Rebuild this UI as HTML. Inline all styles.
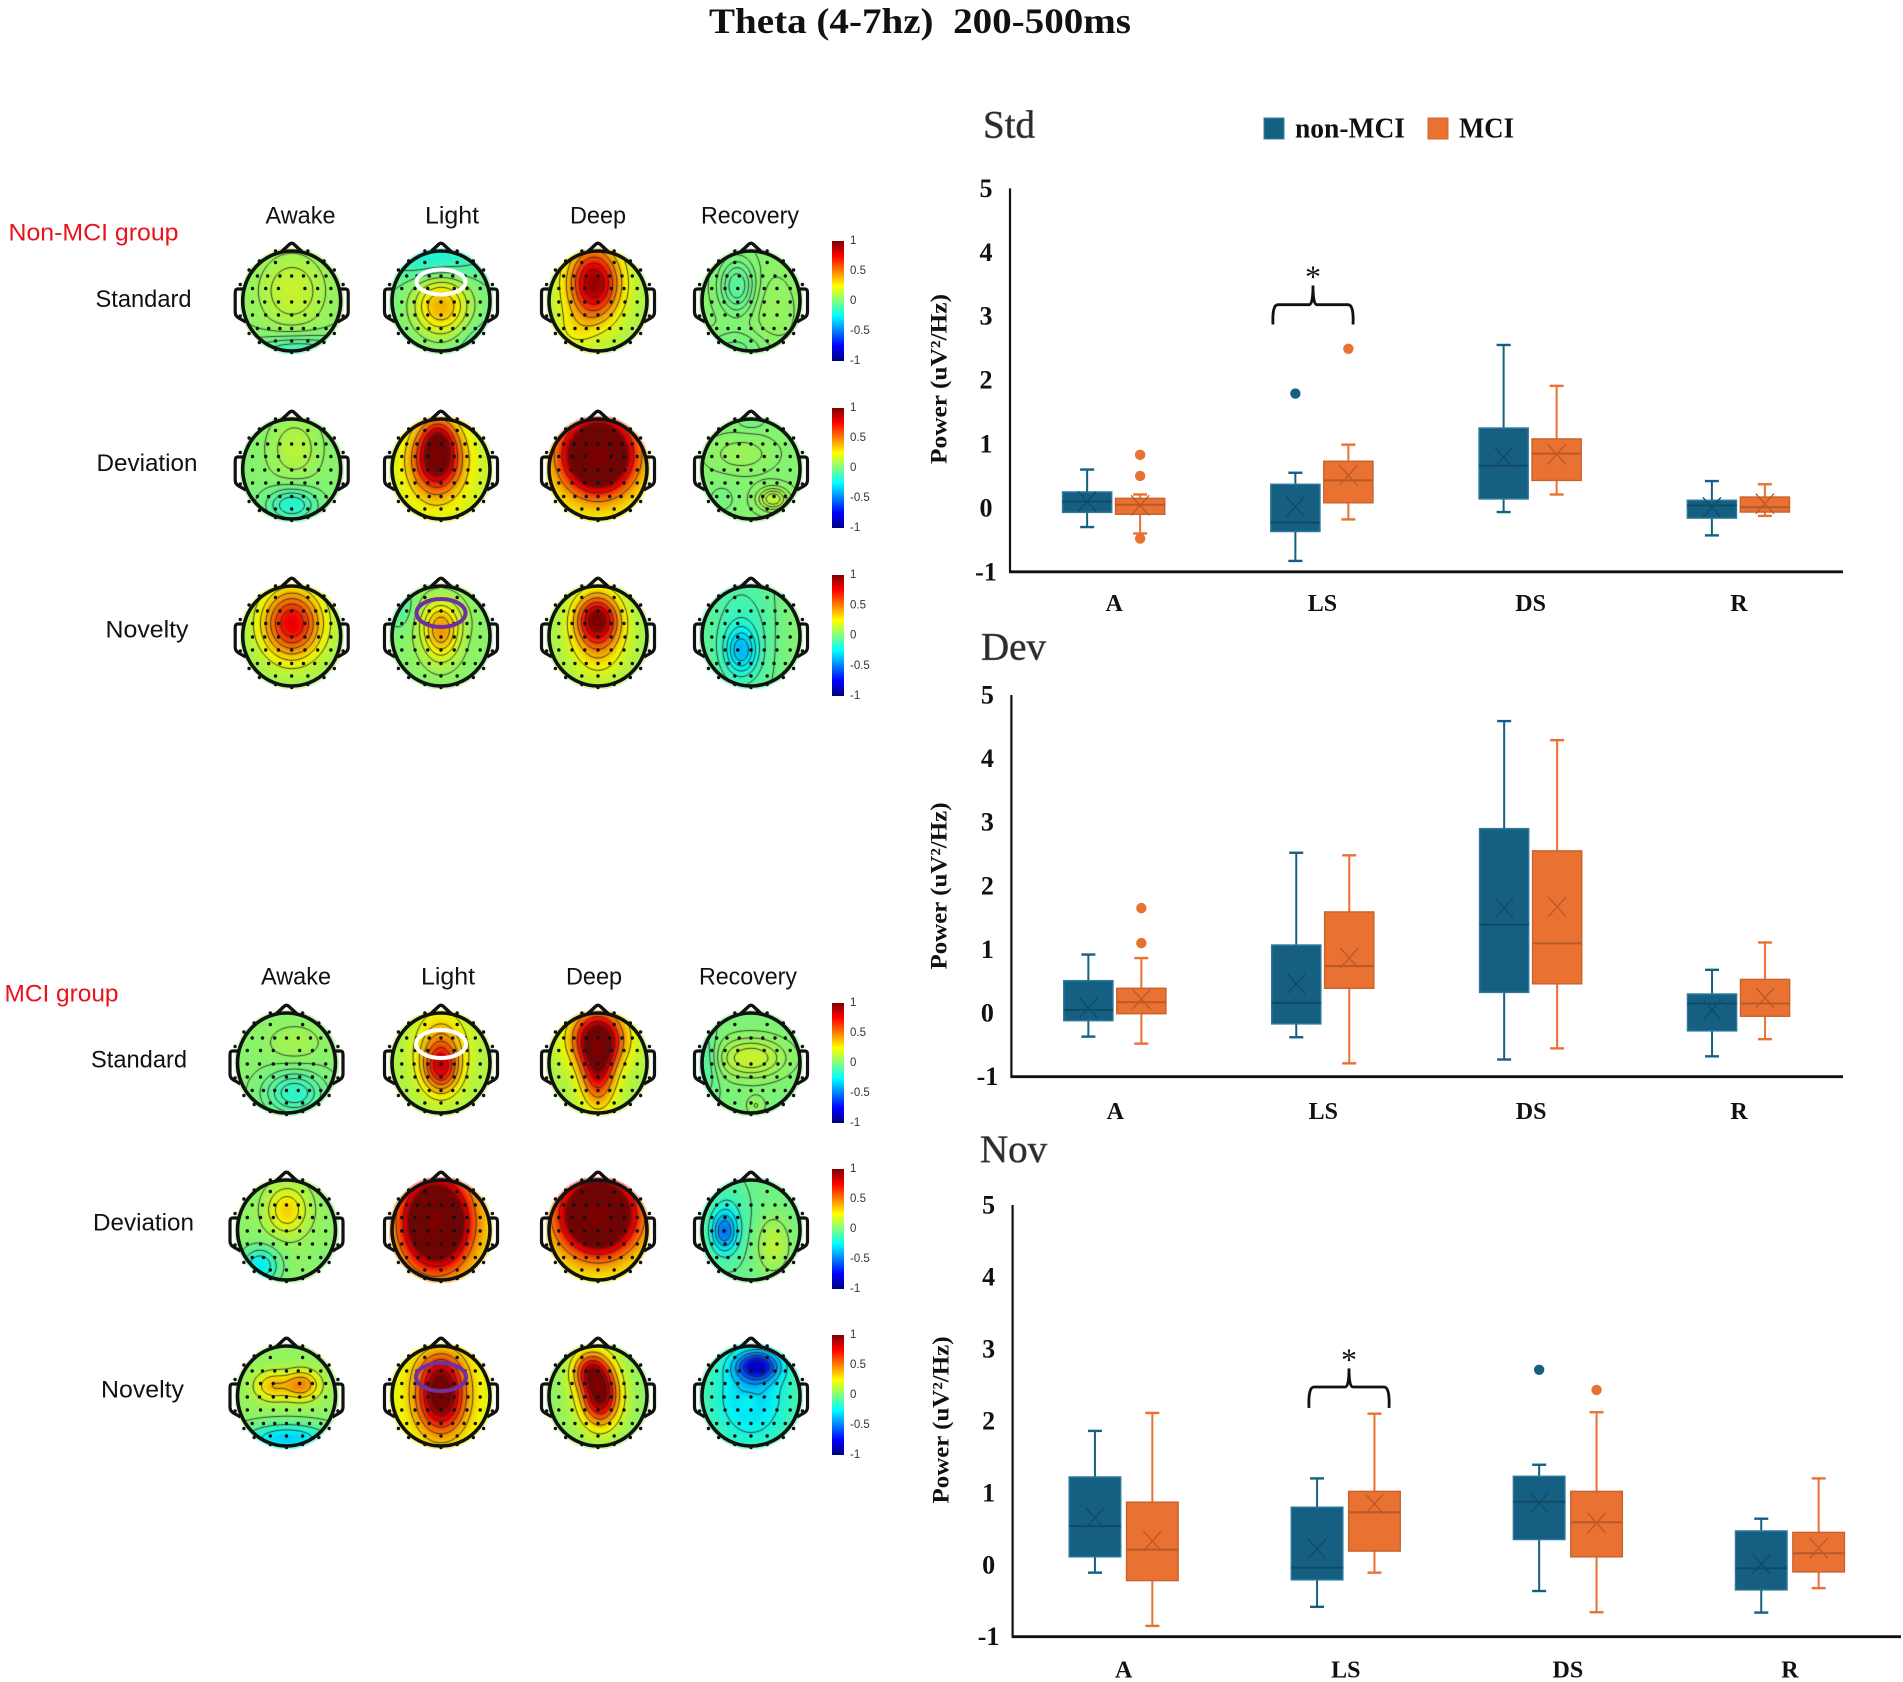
<!DOCTYPE html>
<html lang="en">
<head>
<meta charset="utf-8">
<title>Theta (4-7hz) 200-500ms</title>
<style>
html,body{margin:0;padding:0;background:#fff;}
#page{position:relative;width:1903px;height:1682px;overflow:hidden;background:#fff;}
#page canvas{position:absolute;}
#overlay{position:absolute;left:0;top:0;}
.sans{font-family:"Liberation Sans",sans-serif;fill:#111;}
.serif{font-family:"Liberation Serif",serif;font-weight:bold;fill:#111;}
</style>
</head>
<body>
<div id="page">
<div id="maps"></div>
<svg id="overlay" width="1903" height="1682" viewBox="0 0 1903 1682" xmlns="http://www.w3.org/2000/svg">
  <defs>
    <linearGradient id="jet" x1="0" y1="0" x2="0" y2="1">
      <stop offset="0" stop-color="#800000"/><stop offset="0.125" stop-color="#ff0000"/>
      <stop offset="0.375" stop-color="#ffff00"/><stop offset="0.5" stop-color="#80ff80"/>
      <stop offset="0.625" stop-color="#00ffff"/><stop offset="0.875" stop-color="#0000ff"/>
      <stop offset="1" stop-color="#000080"/>
    </linearGradient>
  </defs>
  <text class="serif" x="920" y="21" font-size="36" text-anchor="middle" dominant-baseline="central" textLength="422" lengthAdjust="spacingAndGlyphs" xml:space="preserve">Theta (4-7hz)  200-500ms</text>

  <g font-size="24">
    <text class="sans" x="8.5" y="233" dominant-baseline="central" textLength="170" lengthAdjust="spacingAndGlyphs" style="fill:#e8141c">Non-MCI group</text>
    <text class="sans" x="300.5" y="216" text-anchor="middle" dominant-baseline="central" textLength="70" lengthAdjust="spacingAndGlyphs">Awake</text>
    <text class="sans" x="452" y="216" text-anchor="middle" dominant-baseline="central" textLength="54" lengthAdjust="spacingAndGlyphs">Light</text>
    <text class="sans" x="598" y="216" text-anchor="middle" dominant-baseline="central" textLength="56" lengthAdjust="spacingAndGlyphs">Deep</text>
    <text class="sans" x="750" y="216" text-anchor="middle" dominant-baseline="central" textLength="98" lengthAdjust="spacingAndGlyphs">Recovery</text>
    <text class="sans" x="143.5" y="299.5" text-anchor="middle" dominant-baseline="central" textLength="96" lengthAdjust="spacingAndGlyphs">Standard</text>
    <text class="sans" x="147" y="463.5" text-anchor="middle" dominant-baseline="central" textLength="101" lengthAdjust="spacingAndGlyphs">Deviation</text>
    <text class="sans" x="147" y="630" text-anchor="middle" dominant-baseline="central" textLength="83" lengthAdjust="spacingAndGlyphs">Novelty</text>
  </g>
  <g font-size="24">
    <text class="sans" x="4.5" y="994" dominant-baseline="central" textLength="114" lengthAdjust="spacingAndGlyphs" style="fill:#e8141c">MCI group</text>
    <text class="sans" x="296" y="977" text-anchor="middle" dominant-baseline="central" textLength="70" lengthAdjust="spacingAndGlyphs">Awake</text>
    <text class="sans" x="448" y="977" text-anchor="middle" dominant-baseline="central" textLength="54" lengthAdjust="spacingAndGlyphs">Light</text>
    <text class="sans" x="594" y="977" text-anchor="middle" dominant-baseline="central" textLength="56" lengthAdjust="spacingAndGlyphs">Deep</text>
    <text class="sans" x="748" y="977" text-anchor="middle" dominant-baseline="central" textLength="98" lengthAdjust="spacingAndGlyphs">Recovery</text>
    <text class="sans" x="139" y="1060" text-anchor="middle" dominant-baseline="central" textLength="96" lengthAdjust="spacingAndGlyphs">Standard</text>
    <text class="sans" x="143.5" y="1223" text-anchor="middle" dominant-baseline="central" textLength="101" lengthAdjust="spacingAndGlyphs">Deviation</text>
    <text class="sans" x="142.5" y="1390" text-anchor="middle" dominant-baseline="central" textLength="83" lengthAdjust="spacingAndGlyphs">Novelty</text>
  </g>

  <g>
    <rect x="1264" y="118" width="20" height="21" fill="#156082" stroke="#3d7f9c"/>
    <text class="serif" x="1295" y="129" font-size="28" dominant-baseline="central" textLength="110" lengthAdjust="spacingAndGlyphs">non-MCI</text>
    <rect x="1428" y="118" width="20" height="21" fill="#e97132" stroke="#c96a35"/>
    <text class="serif" x="1459" y="129" font-size="28" dominant-baseline="central" textLength="55" lengthAdjust="spacingAndGlyphs">MCI</text>
  </g>
  <g id="heads"></g>
  <g id="colorbars"></g>
  <g id="charts"></g>
</svg>
</div>
<script>
/* ===== Chart data: [low whisker, Q1, median, Q3, high whisker, mean] per category ===== */
const categories = ['A', 'LS', 'DS', 'R'];
const yTicks = [-1, 0, 1, 2, 3, 4, 5];

const stdNonMci = [
  [-0.30, -0.07, 0.10, 0.25, 0.60, 0.10],
  [-0.83, -0.37, -0.23, 0.37, 0.55, 0.02],
  [-0.065, 0.14, 0.66, 1.25, 2.55, 0.79],
  [-0.43, -0.16, 0.04, 0.12, 0.42, 0.01]
];
const stdMci = [
  [-0.40, -0.10, 0.05, 0.15, 0.21, 0.04],
  [-0.18, 0.08, 0.43, 0.73, 0.99, 0.51],
  [0.21, 0.43, 0.85, 1.08, 1.91, 0.84],
  [-0.125, -0.065, 0.01, 0.17, 0.37, 0.065]
];
const stdNonMciOutliers = [[], [1.79], [], []];
const stdMciOutliers = [[0.83, 0.50, -0.48], [2.49], [], []];

const devNonMci = [
  [-0.37, -0.12, 0.05, 0.51, 0.92, 0.08],
  [-0.38, -0.17, 0.16, 1.07, 2.52, 0.46],
  [-0.73, 0.325, 1.39, 2.90, 4.59, 1.65],
  [-0.68, -0.28, 0.15, 0.30, 0.68, 0.05]
];
const devMci = [
  [-0.48, -0.01, 0.17, 0.39, 0.865, 0.22],
  [-0.79, 0.39, 0.74, 1.59, 2.48, 0.865],
  [-0.555, 0.46, 1.095, 2.55, 4.29, 1.67],
  [-0.41, -0.05, 0.15, 0.53, 1.11, 0.24]
];
const devNonMciOutliers = [[], [], [], []];
const devMciOutliers = [[1.65, 1.10], [], [], []];

const novNonMci = [
  [-0.11, 0.11, 0.536, 1.22, 1.86, 0.65],
  [-0.585, -0.21, -0.04, 0.80, 1.20, 0.22],
  [-0.365, 0.35, 0.875, 1.23, 1.39, 0.86],
  [-0.665, -0.35, -0.05, 0.47, 0.64, 0.01]
];
const novMci = [
  [-0.85, -0.22, 0.21, 0.87, 2.11, 0.33],
  [-0.11, 0.19, 0.73, 1.02, 2.10, 0.845],
  [-0.66, 0.11, 0.59, 1.02, 2.12, 0.58],
  [-0.325, -0.10, 0.16, 0.45, 1.20, 0.23]
];
const novNonMciOutliers = [[], [], [2.71], []];
const novMciOutliers = [[], [], [2.43], []];

/* significance brace heights in data units: [bottom, shoulder, tip] */
const stdBrace = [2.87, 3.18, 3.48];
const novBrace = [2.18, 2.47, 2.73];

const colorbarTicks = [1, 0.5, 0, -0.5, -1];

/* ===== Topography fields: [base, [cx, cy, sx, sy, amplitude], ...] ===== */
const nonMciFields = [
  [[0.03, [0, -0.2, 0.5, 0.55, 0.13], [0.1, 1, 0.7, 0.22, -0.16]],
   [-0.03, [0, 0.1, 0.4, 0.42, 0.42], [-0.15, -0.85, 0.7, 0.3, -0.18], [0.8, 0.9, 0.3, 0.3, -0.08]],
   [0.1, [-0.08, -0.35, 0.36, 0.5, 0.85], [-0.5, 0.6, 0.3, 0.3, 0.1]],
   [0.03, [-0.28, -0.3, 0.26, 0.38, -0.1], [0.45, 0.2, 0.3, 0.5, 0.03], [-0.3, 0.95, 0.5, 0.25, -0.05]]],
  [[0.02, [0.05, -0.4, 0.34, 0.42, 0.11], [0, 0.72, 0.36, 0.24, -0.2]],
   [0.13, [-0.08, -0.2, 0.32, 0.42, 0.85], [-0.05, -0.65, 0.22, 0.25, 0.3], [-0.1, 0, 0.55, 0.8, 0.15]],
   [0.2, [0, -0.28, 0.48, 0.5, 1.6]],
   [0.02, [-0.2, -0.3, 0.4, 0.22, 0.05], [0.45, 0.6, 0.22, 0.16, 0.12], [-0.6, 0.6, 0.2, 0.2, -0.03], [0, -0.95, 0.2, 0.1, -0.04]]],
  [[0.06, [0, -0.25, 0.42, 0.48, 0.72]],
   [0.03, [0, -0.05, 0.26, 0.38, 0.35], [0, -0.35, 0.34, 0.3, 0.1], [-0.85, -0.6, 0.2, 0.3, -0.13]],
   [0.08, [-0.02, -0.35, 0.28, 0.3, 0.55], [0, -0.1, 0.36, 0.52, 0.45]],
   [-0.03, [-0.2, 0.3, 0.22, 0.32, -0.26], [-0.2, -0.1, 0.45, 0.8, -0.1], [0.9, 0, 0.3, 0.8, 0.05]]]
];
const mciFields = [
  [[0.03, [0.15, -0.4, 0.36, 0.24, 0.06], [0.15, 0.6, 0.42, 0.3, -0.19]],
   [0.1, [0, 0.12, 0.24, 0.32, 0.5], [0, -0.3, 0.36, 0.5, 0.33]],
   [0.1, [0, -0.5, 0.38, 0.38, 0.85], [0, 0.1, 0.24, 0.5, 0.7]],
   [0, [0, -0.1, 0.5, 0.28, 0.16], [0.1, 0.85, 0.14, 0.14, 0.06], [-0.95, 0, 0.2, 0.5, -0.1]]],
  [[0.04, [0, -0.4, 0.28, 0.32, 0.28], [-0.55, 0.72, 0.26, 0.25, -0.3], [0.75, 0.6, 0.15, 0.15, -0.03]],
   [0.25, [-0.1, -0.15, 0.44, 0.58, 1.6]],
   [0.2, [0, -0.3, 0.52, 0.52, 1.6]],
   [-0.02, [-0.55, 0.03, 0.18, 0.28, -0.4], [-0.45, -0.2, 0.3, 0.6, -0.12], [0.45, 0.3, 0.24, 0.38, 0.16]]],
  [[0.05, [-0.3, -0.2, 0.25, 0.2, 0.3], [0.3, -0.22, 0.25, 0.2, 0.42], [0, 0.85, 0.6, 0.2, -0.38]],
   [0.18, [0, 0.05, 0.32, 0.45, 0.8], [0, -0.5, 0.32, 0.3, 0.25], [0, 0, 0.6, 0.8, 0.1]],
   [0.03, [0.05, 0, 0.24, 0.36, 0.8], [-0.15, -0.5, 0.24, 0.26, 0.6], [0, -0.1, 0.42, 0.65, 0.2]],
   [-0.05, [0.13, -0.6, 0.3, 0.2, -0.62], [0, 0, 0.55, 0.7, -0.28], [-0.05, 0.13, 0.12, 0.12, 0.1]]]
];

const NS = 'http://www.w3.org/2000/svg';
function svgEl(tag, attrs, parent) {
  const n = document.createElementNS(NS, tag);
  for (const k in attrs) n.setAttribute(k, attrs[k]);
  parent.appendChild(n);
  return n;
}

/* ---------- topomaps ---------- */
function jet(v) {
  const t = Math.max(0, Math.min(1, (v + 1) / 2));
  const c = x => Math.round(243 * Math.max(0, Math.min(1, 1.5 - Math.abs(x))));
  return [c(4 * t - 3), c(4 * t - 2), c(4 * t - 1)];
}
function fieldAt(spec, x, y) {
  let v = spec[0];
  for (let i = 1; i < spec.length; i++) {
    const b = spec[i];
    const dx = (x - b[0]) / b[2], dy = (y - b[1]) / b[3];
    v += b[4] * Math.exp(-0.5 * (dx * dx + dy * dy));
  }
  return v;
}
const RX = 49, RY = 50;
function drawField(canvas, spec) {
  const W = canvas.width, H = canvas.height, cx = W / 2, cy = H / 2;
  const ctx = canvas.getContext('2d');
  const img = ctx.createImageData(W, H);
  let lo = Infinity, hi = -Infinity;
  for (let j = 0; j < H; j++) for (let i = 0; i < W; i++) {
    const x = (i + 0.5 - cx) / RX, y = (j + 0.5 - cy) / RY, r = Math.hypot(x, y);
    if (r > 1.07) continue;
    const f = fieldAt(spec, x, y);
    if (r <= 1) { lo = Math.min(lo, f); hi = Math.max(hi, f); }
    const c = jet(f), k = (i + j * W) * 4;
    img.data[k] = c[0]; img.data[k + 1] = c[1]; img.data[k + 2] = c[2];
    img.data[k + 3] = r > 1.0 ? 130 : 255;
  }
  ctx.putImageData(img, 0, 0);
  ctx.strokeStyle = 'rgba(35,35,35,0.85)';
  ctx.lineWidth = 1;
  const step = 2, levels = 6;
  ctx.beginPath();
  for (let n = 1; n <= levels; n++) {
    const lev = lo + (hi - lo) * n / (levels + 1);
    for (let j = 0; j < H - step; j += step) for (let i = 0; i < W - step; i += step) {
      const px = [i, i + step, i + step, i], py = [j, j, j + step, j + step];
      const nx = a => (a - cx) / RX, ny = a => (a - cy) / RY;
      if (Math.hypot(nx(i + 1), ny(j + 1)) > 0.98) continue;
      const val = px.map((p, q) => fieldAt(spec, nx(p), ny(py[q])));
      const pts = [];
      for (let e = 0; e < 4; e++) {
        const f = (e + 1) % 4, a = val[e] - lev, b = val[f] - lev;
        if ((a < 0) !== (b < 0)) {
          const t = a / (a - b);
          pts.push([px[e] + t * (px[f] - px[e]), py[e] + t * (py[f] - py[e])]);
        }
      }
      for (let s = 0; s + 1 < pts.length; s += 2) {
        ctx.moveTo(pts[s][0], pts[s][1]);
        ctx.lineTo(pts[s + 1][0], pts[s + 1][1]);
      }
    }
  }
  ctx.stroke();
}

const electrodes = [];
[[-0.77, [0.33]], [-0.5, [0.7, 0.49, 0.24, 0]], [-0.25, [0.8, 0.53, 0.27]], [0.02, [0.8, 0.55, 0.27, 0]],
 [0.28, [0.8, 0.53, 0.27, 0]], [0.55, [0.7, 0.47, 0.24, 0]], [0.8, [0.33, 0]]].forEach(function (row) {
  row[1].forEach(function (x) {
    electrodes.push([x, row[0]]);
    if (x) electrodes.push([-x, row[0]]);
  });
});
[[0.33, -1], [0.66, -0.8], [0.87, -0.62], [1.05, -0.33], [1.05, 0.3], [0.87, 0.65], [0.66, 0.83], [0.33, 0.97]].forEach(function (p) {
  electrodes.push([p[0], p[1]]);
  electrodes.push([-p[0], p[1]]);
});
electrodes.push([0, 1.03]);

function drawHead(cx, cy, parent, name) {
  const g = svgEl('g', {}, parent);
  
  
  const nose = svgEl('path', {d: `M${cx - 10.5} ${cy - RY + 1} L${cx - 2.5} ${cy - 56.5} Q${cx} ${cy - 59} ${cx + 2.5} ${cy - 56.5} L${cx + 10.5} ${cy - RY + 1}`, fill: 'none', stroke: '#111', 'stroke-width': 3.4, 'stroke-linejoin': 'round'}, g);
  
  
  [-1, 1].forEach(function (s) {
    const ear = svgEl('path', {d: `M${cx + s * 49} ${cy - 12} L${cx + s * 54} ${cy - 12} Q${cx + s * 56.5} ${cy - 12} ${cx + s * 56.5} ${cy - 8} L${cx + s * 56.5} ${cy + 11} Q${cx + s * 56.5} ${cy + 15} ${cx + s * 53} ${cy + 17} L${cx + s * 46} ${cy + 21}`, fill: 'none', stroke: '#111', 'stroke-width': 3.2}, g);
    
    
  });
  const outline = svgEl('ellipse', {cx: cx, cy: cy, rx: RX, ry: RY, fill: 'none', stroke: '#111', 'stroke-width': 3.6}, g);
  
  
  electrodes.forEach(function (p) {
    const dot = svgEl('circle', {cx: cx + p[0] * RX, cy: cy + p[1] * RY, r: 1.7, fill: '#111'}, g);
    
    
  });
}

const mapsDiv = document.getElementById('maps');
const headsG = document.getElementById('heads');
const cbG = document.getElementById('colorbars');
const conds = ['standard', 'deviation', 'novelty'];
const stages = ['awake', 'light', 'deep', 'recovery'];

function drawGroup(fields, colX, rowY, prefix) {
  fields.forEach(function (row, r) {
    row.forEach(function (spec, c) {
      const cv = document.createElement('canvas');
      cv.width = 120; cv.height = 120;
      cv.style.left = (colX[c] - 60) + 'px';
      cv.style.top = (rowY[r] - 60) + 'px';
      
      
      mapsDiv.appendChild(cv);
      drawField(cv, spec);
      drawHead(colX[c], rowY[r], headsG, prefix + '-' + conds[r] + '-' + stages[c] + '-head');
    });
  });
}
drawGroup(nonMciFields, [291.7, 441, 598, 751], [301, 469, 636], 'non-mci');
drawGroup(mciFields, [286.5, 441, 598, 751], [1063, 1230, 1396], 'mci');

function drawColorbar(top, bottom, name) {
  const g = svgEl('g', {}, cbG);
  
  
  const bar = svgEl('rect', {x: 832, y: top, width: 12, height: bottom - top, fill: 'url(#jet)'}, g);
  
  
  colorbarTicks.forEach(function (v) {
    const t = svgEl('text', {x: 850, y: bottom - (v + 1) / 2 * (bottom - top), 'font-size': 11.5, 'dominant-baseline': 'central', 'font-family': '"Liberation Sans",sans-serif', fill: '#333'}, g);
    t.textContent = String(v);
    
    
  });
}
[[241, 361], [408, 528], [575, 696], [1003, 1123], [1169, 1289], [1335, 1455]].forEach(function (b, i) {
  drawColorbar(b[0], b[1], 'colorbar-' + (i + 1));
});

function highlight(cx, cy, rx, ry, color, name) {
  const e = svgEl('ellipse', {cx: cx, cy: cy, rx: rx, ry: ry, fill: 'none', stroke: color, 'stroke-width': 4}, headsG);
  
  
}
highlight(441, 282, 24.5, 12.5, '#ffffff', 'non-mci-light-standard-highlight');
highlight(441, 613, 24.5, 14, '#7030a0', 'non-mci-light-novelty-highlight');
highlight(441, 1044, 25, 14, '#ffffff', 'mci-light-standard-highlight');
highlight(441, 1377, 25, 14, '#7030a0', 'mci-light-novelty-highlight');

/* ---------- box plots ---------- */
const BLUE = {fill: '#156082', line: '#0f4a66', edge: '#2f7a9b'};
const ORANGE = {fill: '#e97132', line: '#b9592a', edge: '#c9622c'};

function drawPanel(p) {
  const root = document.getElementById('charts');
  const g = svgEl('g', {}, root);
  
  
  const yOf = v => p.bottom - (v + 1) / 6 * (p.bottom - p.top);
  const catW = (p.right - p.left) / categories.length;
  const xOf = i => p.left + catW * (i + 0.5);

  const title = svgEl('text', {x: p.titleX, y: p.titleY, 'font-size': 39, 'dominant-baseline': 'central', 'font-family': '"Liberation Serif",serif', fill: '#2b2b2b', stroke: '#555', 'stroke-width': 0.6}, g);
  title.textContent = p.title;
  
  

  const ylab = svgEl('text', {transform: `translate(${p.ylabX},${p.ylabY}) rotate(-90)`, 'text-anchor': 'middle', 'dominant-baseline': 'central', 'font-size': 23, textLength: p.ylabLen, lengthAdjust: 'spacingAndGlyphs', class: 'serif'}, g);
  ylab.textContent = 'Power (uV\u00B2/Hz)';
  
  

  yTicks.forEach(function (v) {
    const t = svgEl('text', {x: p.left - 24, y: yOf(v), 'text-anchor': 'middle', 'dominant-baseline': 'central', 'font-size': 26, class: 'serif'}, g);
    t.textContent = String(v);
    
    
  });

  const yAxis = svgEl('line', {x1: p.left, x2: p.left, y1: p.top, y2: p.bottom, stroke: '#111', 'stroke-width': 2.2}, g);
  
  
  const xAxis = svgEl('line', {x1: p.left - 1, x2: p.right, y1: p.bottom, y2: p.bottom, stroke: '#111', 'stroke-width': 2.8}, g);
  
  

  categories.forEach(function (cat, i) {
    const t = svgEl('text', {x: xOf(i), y: p.catY, 'text-anchor': 'middle', 'dominant-baseline': 'central', 'font-size': 24, class: 'serif'}, g);
    t.textContent = cat;
    
    
  });

  function series(rows, outliers, dir, col, tag) {
    rows.forEach(function (d, i) {
      const cx = xOf(i) + dir * p.offset - p.shift, hw = p.halfWidth;
      const b = svgEl('g', {}, g);
      
      
      const common = {stroke: col.line, 'stroke-width': 2};
      svgEl('line', Object.assign({x1: cx, x2: cx, y1: yOf(d[4]), y2: yOf(d[0])}, common, {stroke: col.fill}), b);
      svgEl('line', Object.assign({x1: cx - 7, x2: cx + 7, y1: yOf(d[4]), y2: yOf(d[4])}, common, {'stroke-width': 2.4, stroke: col.fill}), b);
      svgEl('line', Object.assign({x1: cx - 7, x2: cx + 7, y1: yOf(d[0]), y2: yOf(d[0])}, common, {'stroke-width': 2.4, stroke: col.fill}), b);
      svgEl('rect', {x: cx - hw, y: yOf(d[3]), width: 2 * hw, height: yOf(d[1]) - yOf(d[3]), fill: col.fill, stroke: col.edge, 'stroke-width': 1.4}, b);
      svgEl('line', Object.assign({x1: cx - hw, x2: cx + hw, y1: yOf(d[2]), y2: yOf(d[2])}, common), b);
      const my = yOf(d[5]);
      svgEl('path', {d: `M${cx - 9} ${my - 10} L${cx + 9} ${my + 10} M${cx + 9} ${my - 10} L${cx - 9} ${my + 10}`, stroke: col.line, 'stroke-width': 1.3, fill: 'none'}, b);
      outliers[i].forEach(function (v) {
        const o = svgEl('circle', {cx: cx, cy: yOf(v), r: 5.2, fill: col.fill}, b);
        
        
      });
    });
  }
  series(p.nonMci, p.nonMciOut, -1, BLUE, 'non-mci');
  series(p.mci, p.mciOut, 1, ORANGE, 'mci');

  if (p.brace) {
    const c = p.braceX;
    const hw = 40;
    const yb = yOf(p.brace[0]), ys = yOf(p.brace[1]), yt = yOf(p.brace[2]);
    const br = svgEl('path', {d: `M${c - hw} ${yb} Q${c - hw - 1} ${ys} ${c - hw + 5} ${ys} L${c - 4} ${ys} Q${c} ${ys} ${c} ${yt} Q${c} ${ys} ${c + 4} ${ys} L${c + hw - 5} ${ys} Q${c + hw + 1} ${ys} ${c + hw} ${yb}`, fill: 'none', stroke: '#111', 'stroke-width': 2.8}, g);
    
    
    const star = svgEl('text', {x: c, y: yt + 2, 'text-anchor': 'middle', 'font-size': 32, 'font-family': '"Liberation Serif",serif', fill: '#111'}, g);
    star.textContent = '*';
    
    
  }
}

drawPanel({title: 'Std', left: 1010, right: 1843, top: 188.4, bottom: 571.8, offset: 26.5, halfWidth: 24.6, shift: 0.5,
  titleX: 983, titleY: 125, ylabX: 939, ylabY: 379, ylabLen: 170, catY: 604,
  nonMci: stdNonMci, mci: stdMci, nonMciOut: stdNonMciOutliers, mciOut: stdMciOutliers, brace: stdBrace, braceX: 1313});
drawPanel({title: 'Dev', left: 1011.4, right: 1843, top: 695, bottom: 1076.7, offset: 26.5, halfWidth: 24.6, shift: 0.5,
  titleX: 981, titleY: 647, ylabX: 939, ylabY: 886, ylabLen: 167, catY: 1112,
  nonMci: devNonMci, mci: devMci, nonMciOut: devNonMciOutliers, mciOut: devMciOutliers, brace: null, braceX: 0});
drawPanel({title: 'Nov', left: 1012.6, right: 1901, top: 1205, bottom: 1636.7, offset: 28.7, halfWidth: 25.8, shift: 0,
  titleX: 980, titleY: 1149.5, ylabX: 941, ylabY: 1420, ylabLen: 167, catY: 1670.7,
  nonMci: novNonMci, mci: novMci, nonMciOut: novNonMciOutliers, mciOut: novMciOutliers, brace: novBrace, braceX: 1349});
</script>
</body>
</html>
